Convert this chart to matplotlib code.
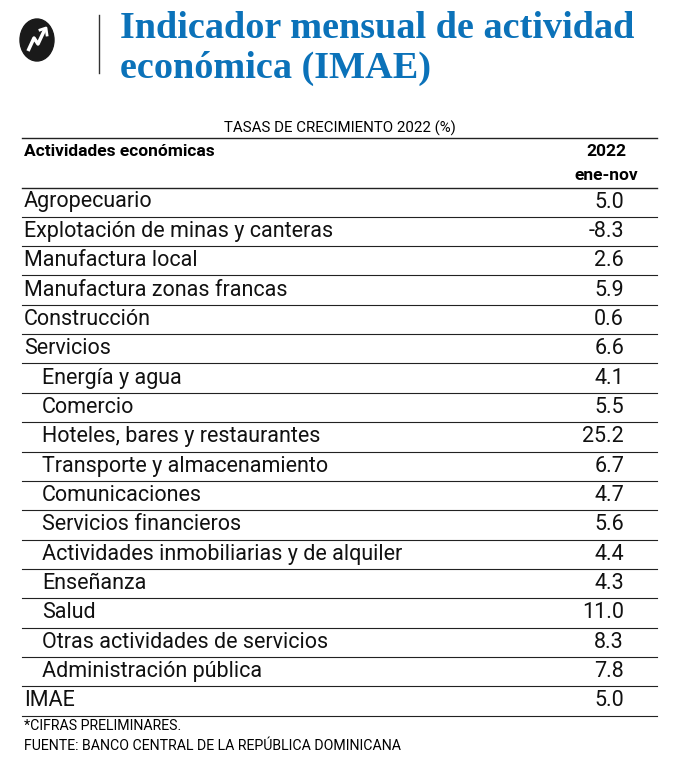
import matplotlib.pyplot as plt
from matplotlib.patches import Ellipse

activities = ["Agropecuario", "Explotación de minas y canteras", "Manufactura local",
              "Manufactura zonas francas", "Construcción", "Servicios",
              "Energía y agua", "Comercio", "Hoteles, bares y restaurantes",
              "Transporte y almacenamiento", "Comunicaciones", "Servicios financieros",
              "Actividades inmobiliarias y de alquiler", "Enseñanza", "Salud",
              "Otras actividades de servicios", "Administración pública", "IMAE"]
growth = [5.0, -8.3, 2.6, 5.9, 0.6, 6.6, 4.1, 5.5, 25.2, 6.7, 4.7, 5.6, 4.4, 4.3,
          11.0, 8.3, 7.8, 5.0]
indented = [False] * 6 + [True] * 11 + [False]

BLUE = "#0b72b9"
fig = plt.figure(figsize=(6.8, 7.7), dpi=100)
ax = fig.add_axes([0, 0, 1, 1])
ax.set_xlim(0, 680)
ax.set_ylim(770, 0)
ax.axis("off")

# icon
ax.add_patch(Ellipse((37, 40), 34, 42, color="#1a1a1a"))
ax.plot([28, 34, 38, 45], [51, 38, 44, 29], color="white", lw=2.5, solid_capstyle="butt")
ax.plot([40, 46, 47], [30, 28, 35], color="white", lw=2)
ax.plot([99, 99], [15, 73], color="#333333", lw=1)

title_font = dict(family="Liberation Serif", fontweight="bold", color=BLUE, fontsize=27.5)
ax.text(120, 29, "Indicador mensual de actividad", va="center", ha="left", **title_font)
ax.text(120, 68, "económica (IMAE)", va="center", ha="left", **title_font)

ax.text(340, 128, "TASAS DE CRECIMIENTO 2022 (%)", ha="center", va="center",
        family="Roboto", fontsize=10.8)
ax.plot([22, 657], [138, 138], color="#222222", lw=1)
ax.text(24, 152, "Actividades económicas", ha="left", va="center",
        family="Roboto", fontweight="bold", fontsize=12.5)
ax.text(606, 152, "2022", ha="center", va="center", family="Roboto",
        fontweight="bold", fontsize=12.5)
ax.text(606, 176, "ene-nov", ha="center", va="center", family="Roboto",
        fontweight="bold", fontsize=12.5)
ax.plot([22, 657], [188, 188], color="#222222", lw=1)

step = (701 - 202) / (len(activities) - 1)
for i, (name, val, ind) in enumerate(zip(activities, growth, indented)):
    y = 202 + i * step
    ax.text(42 if ind else 24, y, name, ha="left", va="center",
            family="Roboto", fontsize=15.5, color="#111111")
    ax.text(624, y, f"{val:.1f}", ha="right", va="center",
            family="Roboto", fontsize=15.5, color="#111111")
    ax.plot([22, 657], [y + step / 2, y + step / 2], color="#222222", lw=0.8)

ax.text(24, 726, "*CIFRAS PRELIMINARES.", ha="left", va="center",
        family="Roboto", fontsize=10.2)
ax.text(24, 746, "FUENTE: BANCO CENTRAL DE LA REPÚBLICA DOMINICANA", ha="left",
        va="center", family="Roboto", fontsize=10.2)

fig.savefig("out.png", dpi=100)
